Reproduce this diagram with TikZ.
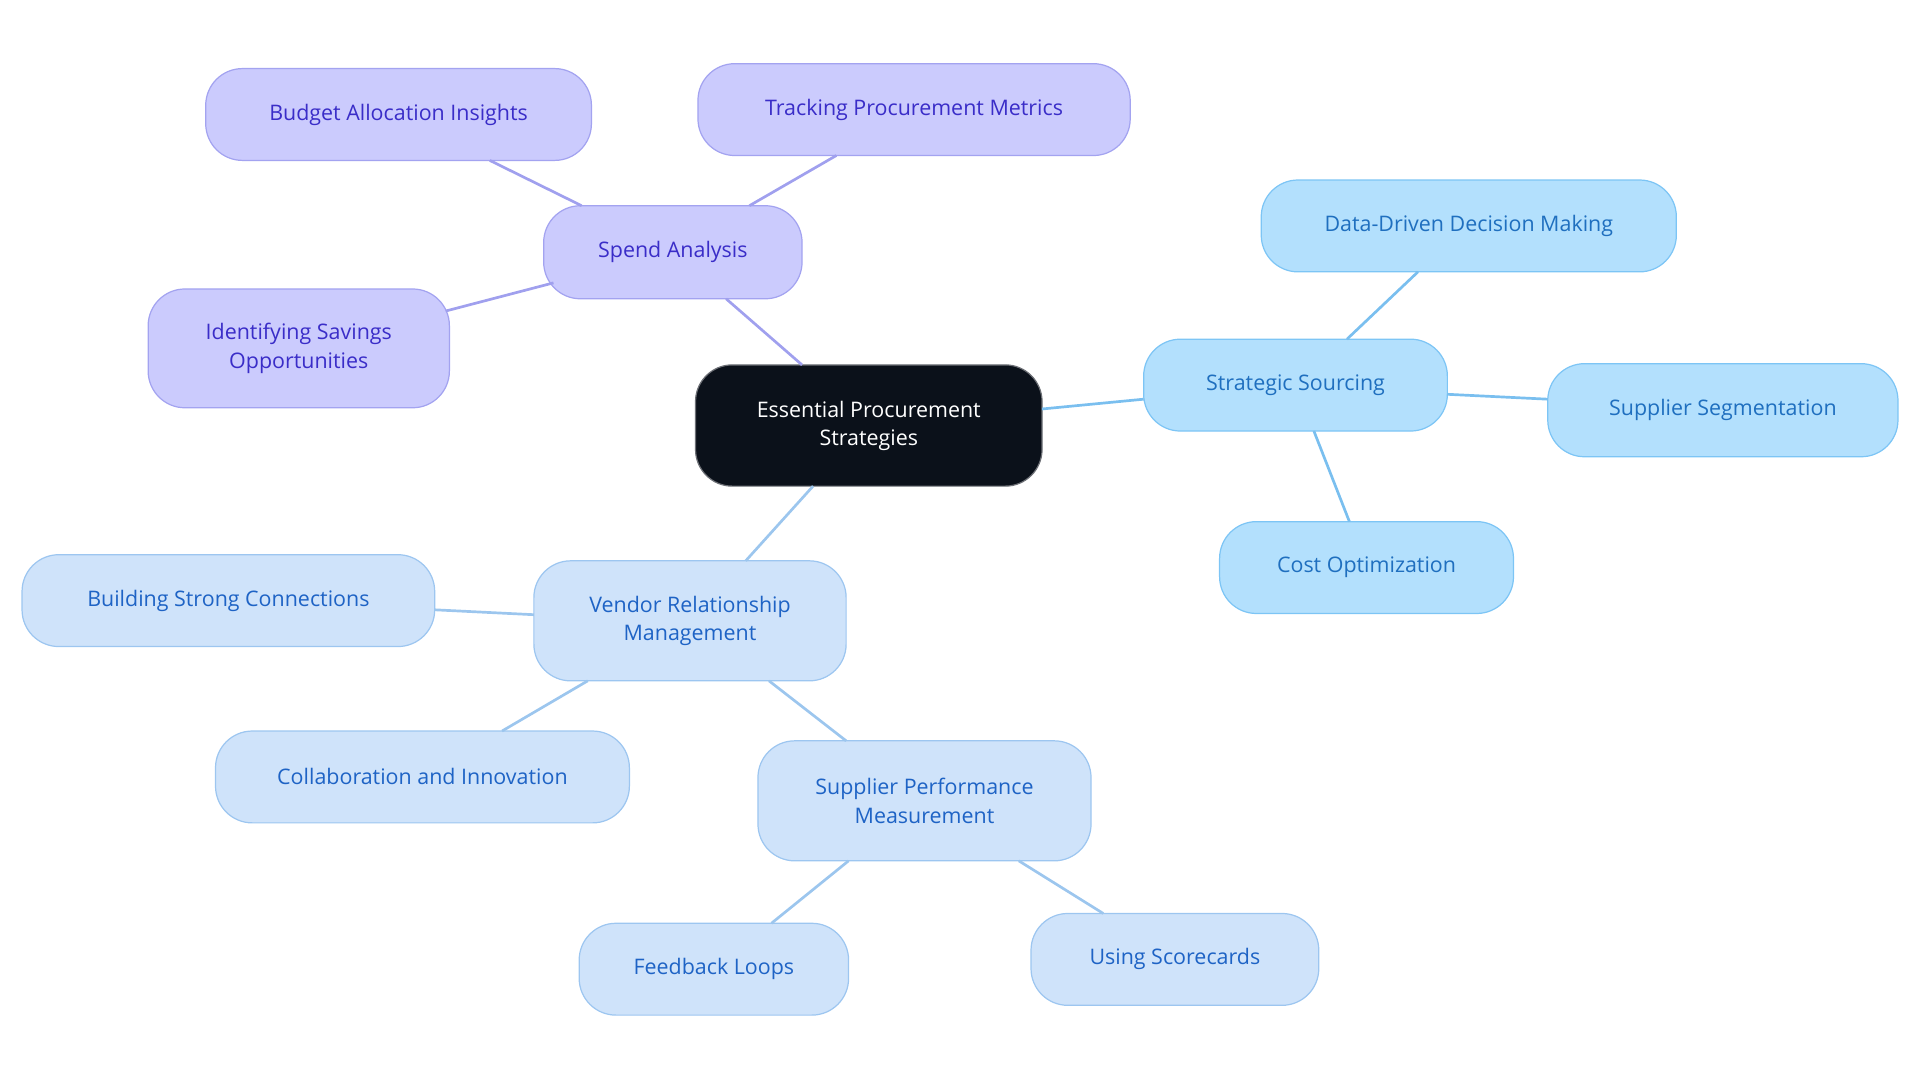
\documentclass[tikz,border=0pt]{standalone}
\usepackage{fontspec}
\setmainfont{Open Sans}
\begin{document}
\begin{tikzpicture}[x=1pt,y=-1pt,
 base/.style={rounded corners=30pt,line width=1pt,align=center,inner sep=0pt,font=\fontsize{17.5}{23}\selectfont},
 pur/.style={base,fill=purfill,draw=purdraw,text=purtext},
 sky/.style={base,fill=skyfill,draw=skydraw,text=skytext},
 ven/.style={base,fill=venfill,draw=vendraw,text=ventext},
 pe/.style={draw=puredge,line width=2.2pt},
 se/.style={draw=skyedge,line width=2.2pt},
 ve/.style={draw=venedge,line width=2.2pt}]
\definecolor{purfill}{HTML}{CBCBFD}\definecolor{purdraw}{HTML}{A3A3F0}\definecolor{purtext}{HTML}{3A2DC8}\definecolor{puredge}{HTML}{A0A0EE}
\definecolor{skyfill}{HTML}{B3E0FD}\definecolor{skydraw}{HTML}{7DC5F5}\definecolor{skytext}{HTML}{1F6FBF}\definecolor{skyedge}{HTML}{7ABFEF}
\definecolor{venfill}{HTML}{CFE3FA}\definecolor{vendraw}{HTML}{9DC6F0}\definecolor{ventext}{HTML}{1E63C5}\definecolor{venedge}{HTML}{9CC6EE}
\definecolor{cfill}{HTML}{0B111A}
\useasboundingbox (0,0) rectangle (1568,884);
\newcommand\nd[7]{\node[#1,minimum width=#4pt,minimum height=#5pt] (#6) at (#2,#3) {#7};}
\nd{base,fill=cfill,draw=cfill!60,text=white}{709.5}{347.5}{283}{99}{c}{Essential Procurement\\Strategies}
\nd{pur}{549.5}{206}{211}{76}{sa}{Spend Analysis}
\nd{pur}{325.5}{93.5}{315}{75}{ba}{Budget Allocation Insights}
\nd{pur}{746.5}{89.5}{353}{75}{tp}{Tracking Procurement Metrics}
\nd{pur}{244}{284.5}{246}{97}{is}{Identifying Savings\\Opportunities}
\nd{sky}{1058}{314.5}{248}{75}{ss}{Strategic Sourcing}
\nd{sky}{1199.5}{184.5}{339}{75}{dd}{Data-Driven Decision Making}
\nd{sky}{1407}{335}{286}{76}{sg}{Supplier Segmentation}
\nd{sky}{1116}{463.5}{240}{75}{co}{Cost Optimization}
\nd{ven}{563.5}{507}{255}{98}{vr}{Vendor Relationship\\Management}
\nd{ven}{186.5}{490.5}{337}{75}{bs}{Building Strong Connections}
\nd{ven}{345}{634.5}{338}{75}{ci}{Collaboration and Innovation}
\nd{ven}{755}{654}{272}{98}{sp}{Supplier Performance\\Measurement}
\nd{ven}{583}{791.5}{220}{75}{fl}{Feedback Loops}
\nd{ven}{959.5}{783.5}{235}{75}{us}{Using Scorecards}
\begin{scope}[on background layer/.style={}]
\end{scope}
\begin{pgfinterruptboundingbox}
\end{pgfinterruptboundingbox}
\draw[pe] (655,298) -- (593,244);
\draw[pe] (475,168) -- (400,131);
\draw[pe] (612,168) -- (683,127);
\draw[pe] (452,231) -- (364,254);
\draw[se] (851,334) -- (934,326);
\draw[se] (1100,277) -- (1158,222);
\draw[se] (1182,322) -- (1264,326);
\draw[se] (1073,352) -- (1102,426);
\draw[ve] (664,397) -- (609,458);
\draw[ve] (436,502) -- (355,498);
\draw[ve] (480,556) -- (410,597);
\draw[ve] (628,556) -- (691,605);
\draw[ve] (693,703) -- (630,754);
\draw[ve] (832,703) -- (901,746);
\end{tikzpicture}
\end{document}
